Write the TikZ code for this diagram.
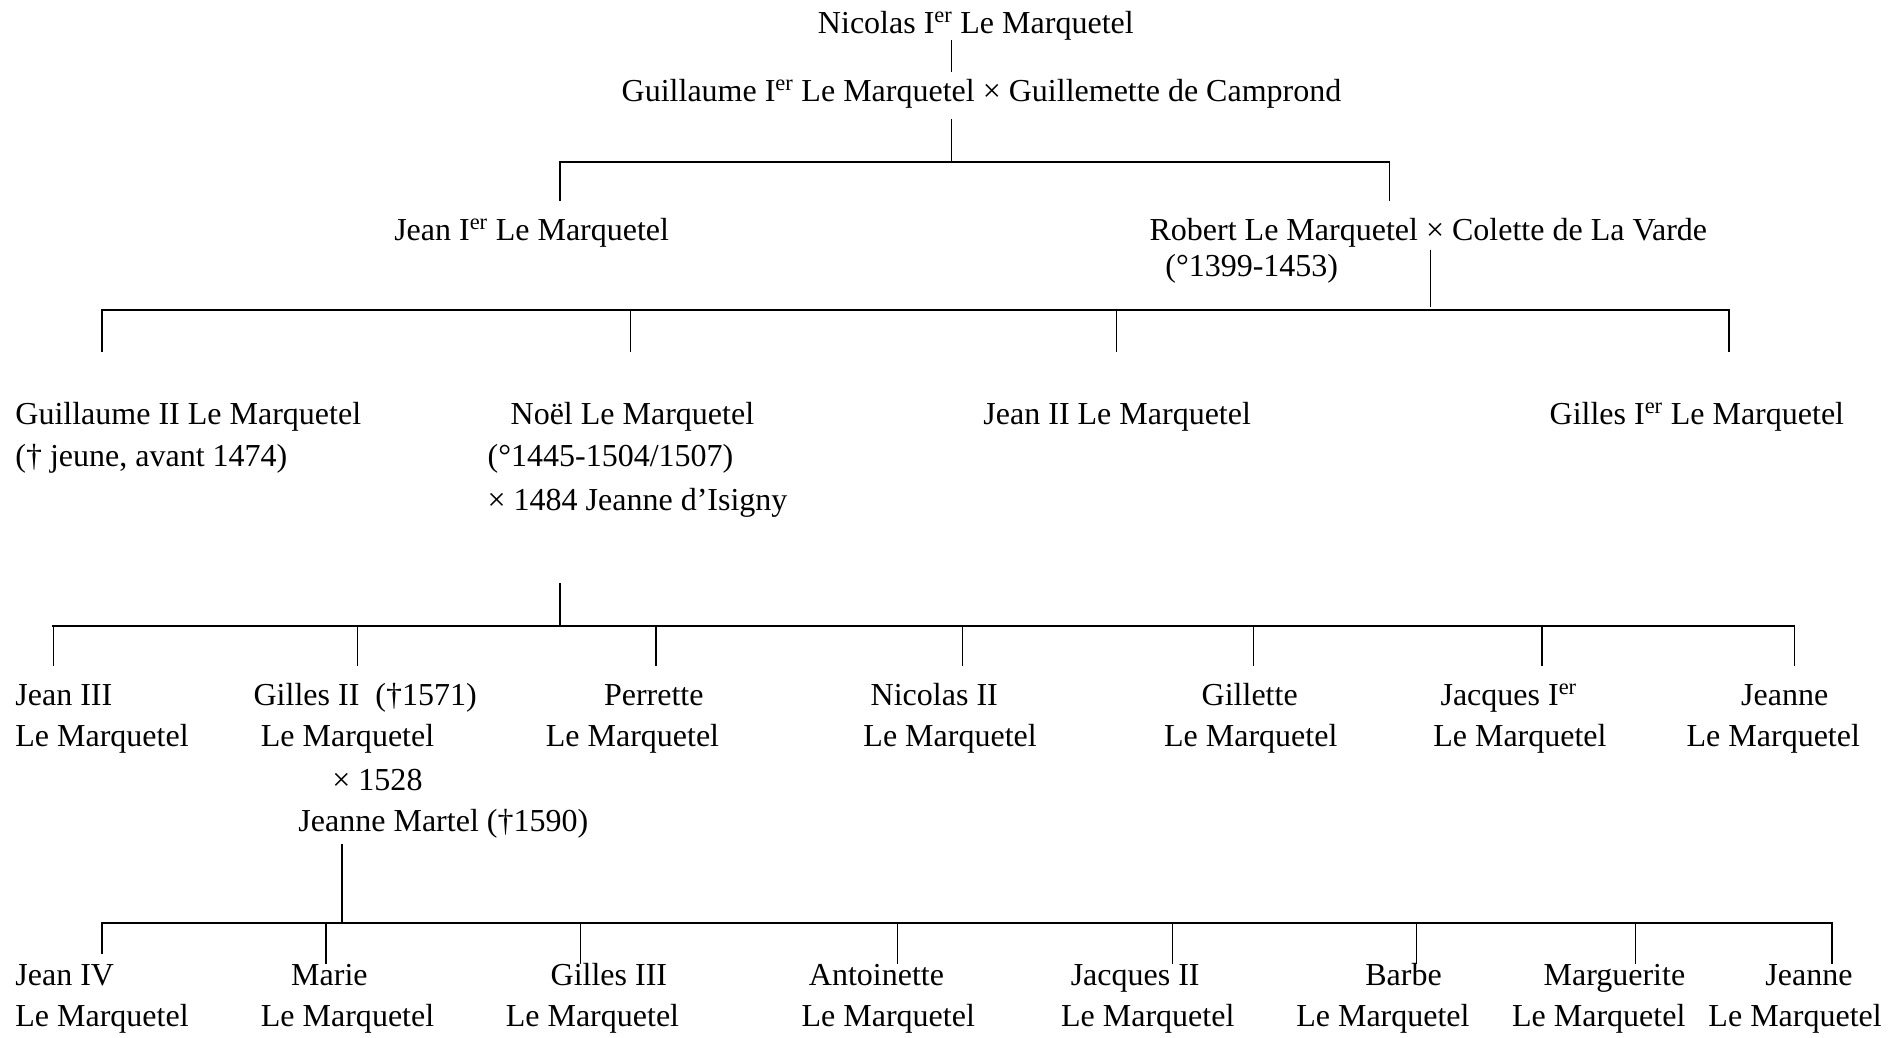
\documentclass[tikz,border=0pt]{standalone}
\usepackage{fontspec}
\setmainfont{Liberation Serif}
\begin{document}
\begin{tikzpicture}[x=1pt,y=-1pt,
  lbl/.style={anchor=base west, inner sep=0pt, font=\fontsize{26.4}{32}\selectfont},
  bar/.style={line width=1.7pt, line cap=rect},
  drop/.style={line width=1.1pt}]
\useasboundingbox[fill=white] (0,0) rectangle (1568,856);

% ---- generation 0 / 1
\node[lbl] (nic1) at (674.5,27.5) {Nicolas I\textsuperscript{er} Le Marquetel};
\node[lbl] (gui1) at (512.6,84) {Guillaume I\textsuperscript{er} Le Marquetel × Guillemette de Camprond};
\coordinate (l0a) at (785,33); \coordinate (l0b) at (785,59);
\draw[drop] (l0a) -- (l0b);

% ---- generation 2
\node[lbl] (jean1) at (325,198) {Jean I\textsuperscript{er} Le Marquetel};
\node[lbl] (rob) at (948,198) {Robert Le Marquetel × Colette de La Varde};
\node[lbl] (robd) at (961,228) {(°1399-1453)};
\coordinate (l1a) at (785,98); \coordinate (l1b) at (785,134);
\coordinate (b1l) at (462,134); \coordinate (b1r) at (1146,134);
\draw[drop] (l1a) -- (l1b);
\draw[bar] (b1l) -- (b1r);
\coordinate (d1a) at (462,166); \coordinate (d1b) at (1146,166);
\draw[drop] (b1l) -- (d1a);
\draw[drop] (b1r) -- (d1b);

% ---- generation 3
\node[lbl] (gui2) at (12.5,350) {Guillaume II Le Marquetel};
\node[lbl] (gui2d) at (12.5,385) {(† jeune, avant 1474)};
\node[lbl] (noel) at (421,350) {Noël Le Marquetel};
\node[lbl] (noeld) at (402,385) {(°1445-1504/1507)};
\node[lbl] (noelm) at (402,421) {× 1484 Jeanne d’Isigny};
\node[lbl] (jean2) at (811,350) {Jean II Le Marquetel};
\node[lbl] (gil1) at (1278,350) {Gilles I\textsuperscript{er} Le Marquetel};
\coordinate (l2a) at (1180,206); \coordinate (l2b) at (1180,253);
\draw[drop] (l2a) -- (l2b);
\coordinate (b2l) at (84,256); \coordinate (b2r) at (1426,256);
\draw[bar] (b2l) -- (b2r);
\foreach \x/\n in {84/a,520/b,921/c,1426/d}{
  \coordinate (t2\n) at (\x,256); \coordinate (e2\n) at (\x,290);
  \draw[drop] (t2\n) -- (e2\n);
}

% ---- generation 4
\node[lbl] (j3a) at (12.5,581.5) {Jean III};
\node[lbl] (j3b) at (12.5,616) {Le Marquetel};
\node[lbl] (g2a) at (209,581.5) {Gilles II\ \ (†1571)};
\node[lbl] (g2b) at (215,616) {Le Marquetel};
\node[lbl] (g2c) at (274,652) {× 1528};
\node[lbl] (g2d) at (246,686) {Jeanne Martel (†1590)};
\node[lbl] (pea) at (498,581.5) {Perrette};
\node[lbl] (peb) at (450,616) {Le Marquetel};
\node[lbl] (n2a) at (718,581.5) {Nicolas II};
\node[lbl] (n2b) at (712,616) {Le Marquetel};
\node[lbl] (gia) at (991,581.5) {Gillette};
\node[lbl] (gib) at (960,616) {Le Marquetel};
\node[lbl] (ja1a) at (1188,581.5) {Jacques I\textsuperscript{er}};
\node[lbl] (ja1b) at (1182,616) {Le Marquetel};
\node[lbl] (je1a) at (1436,581.5) {Jeanne};
\node[lbl] (je1b) at (1391,616) {Le Marquetel};
\coordinate (l3a) at (462,481); \coordinate (l3b) at (462,516);
\draw[drop] (l3a) -- (l3b);
\coordinate (b3l) at (44,516); \coordinate (b3r) at (1480,516);
\draw[bar] (b3l) -- (b3r);
\foreach \x/\n in {44/a,295/b,541/c,794/d,1034/e,1272/f,1480/g}{
  \coordinate (t3\n) at (\x,516); \coordinate (e3\n) at (\x,549);
  \draw[drop] (t3\n) -- (e3\n);
}

% ---- generation 5
\node[lbl] (j4a) at (12.5,813) {Jean IV};
\node[lbl] (j4b) at (12.5,847) {Le Marquetel};
\node[lbl] (maa) at (240,813) {Marie};
\node[lbl] (mab) at (215,847) {Le Marquetel};
\node[lbl] (g3a) at (454,813) {Gilles III};
\node[lbl] (g3b) at (417,847) {Le Marquetel};
\node[lbl] (ana) at (667,813) {Antoinette};
\node[lbl] (anb) at (661,847) {Le Marquetel};
\node[lbl] (ja2a) at (883,813) {Jacques II};
\node[lbl] (ja2b) at (875,847) {Le Marquetel};
\node[lbl] (baa) at (1126,813) {Barbe};
\node[lbl] (bab) at (1069,847) {Le Marquetel};
\node[lbl] (mga) at (1273,813) {Marguerite};
\node[lbl] (mgb) at (1247,847) {Le Marquetel};
\node[lbl] (je2a) at (1456,813) {Jeanne};
\node[lbl] (je2b) at (1409,847) {Le Marquetel};
\coordinate (l4a) at (282,696); \coordinate (l4b) at (282,761);
\draw[drop] (l4a) -- (l4b);
\coordinate (b4l) at (84,761); \coordinate (b4r) at (1511,761);
\draw[bar] (b4l) -- (b4r);
\coordinate (t4a) at (84,761); \coordinate (e4a) at (84,787);
\draw[drop] (t4a) -- (e4a);
\foreach \x/\n in {269/b,479/c,740/d,967/e,1168.5/f,1349/g,1511/h}{
  \coordinate (t4\n) at (\x,761); \coordinate (e4\n) at (\x,795);
  \draw[drop] (t4\n) -- (e4\n);
}
\end{tikzpicture}
\end{document}
